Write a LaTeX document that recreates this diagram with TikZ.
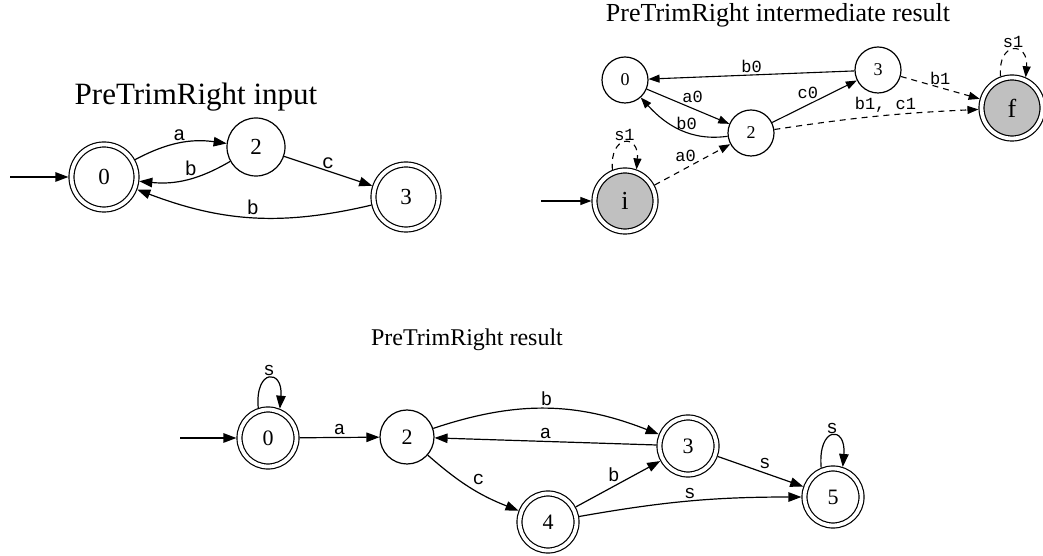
\documentclass[tikz,border=0pt]{standalone}
\usepackage{fontspec}
\setmainfont{Liberation Serif}
\newfontfamily\edgefont{Liberation Mono}
\usetikzlibrary{arrows.meta}
\definecolor{nodegray}{HTML}{C0C0C0}

\tikzset{
  st/.style={circle, draw, line width=1.2pt, inner sep=0pt},
  acc/.style={st, double, double distance=3.8pt, outer sep=3.1pt},
  fin/.style={acc, fill=nodegray},
  ea/.style={line width=1.2pt, -{Triangle[length=13pt,width=9.5pt]}},
  eb/.style={line width=1.1pt, -{Triangle[length=11pt,width=8pt]}},
  dsh/.style={dash pattern=on 6pt off 5pt},
  la/.style={font=\edgefont\fontsize{20}{20}\selectfont, inner sep=2pt},
  lb/.style={font=\edgefont\fontsize{17}{17}\selectfont, inner sep=2pt},
  lc/.style={font=\edgefont\fontsize{19}{19}\selectfont, inner sep=2pt},
  ttl/.style={inner sep=0pt},
}

\begin{document}
\begin{tikzpicture}[x=1pt, y=1pt]
\useasboundingbox (0,0) rectangle (1043,556);

% ---------- input automaton ----------
\node[ttl, font=\fontsize{31}{31}\selectfont] (t1) at (196,459) {PreTrimRight input};
\begin{scope}[every node/.append style={font=\fontsize{23}{23}\selectfont}]
  \node[acc, minimum size=65pt] (g1n0) at (104,379) {0};
  \node[st,  minimum size=58pt] (g1n2) at (256,409) {2};
  \node[acc, minimum size=65pt] (g1n3) at (406,359) {3};
\end{scope}
\coordinate (g1s) at (10,379);
\draw[ea] (g1s) -- (g1n0);
\draw[ea] (g1n0) to[bend left=18] node[la, above] {a} (g1n2);
\draw[ea] (g1n2) to[bend left=18] node[la, above, pos=0.45] {b} (g1n0);
\draw[ea] (g1n2) -- node[la, above, pos=0.5] {c} (g1n3);
\draw[ea] (g1n3) to[bend left=17] node[la, above] {b} (g1n0);

% ---------- intermediate automaton ----------
\node[ttl, font=\fontsize{26}{26}\selectfont] (t2) at (778,541) {PreTrimRight intermediate result};
\begin{scope}[every node/.append style={font=\fontsize{18}{18}\selectfont}]
  \node[st, minimum size=46pt] (g2n0) at (625,476) {0};
  \node[st, minimum size=46pt] (g2n2) at (751,423) {2};
  \node[st, minimum size=46pt] (g2n3) at (878,486) {3};
\end{scope}
\begin{scope}[every node/.append style={font=\fontsize{26}{26}\selectfont}]
  \node[fin, minimum size=61pt] (g2i) at (625,355) {i};
  \node[fin, minimum size=61pt] (g2f) at (1012,448) {f};
\end{scope}
\coordinate (g2s) at (541,355);
\draw[eb] (g2s) -- (g2i);
\draw[eb] (g2n3) -- node[lb, above] {b0} (g2n0);
\draw[eb] (g2n0) -- node[lb, above right, pos=0.45, xshift=-4pt] {a0} (g2n2);
\draw[eb] (g2n2) to[out=188, in=-48] node[lb, above, pos=0.42] {b0} (g2n0);
\draw[eb] (g2n2) -- node[lb, above left, pos=0.5, xshift=6pt] {c0} (g2n3);
\draw[eb, dsh] (g2n3) -- node[lb, above, pos=0.5] {b1} (g2f);
\draw[eb, dsh] (g2n2) to[bend left=3] node[lb, above, pos=0.55] {b1, c1} (g2f);
\draw[eb, dsh] (g2i) -- node[lb, above left, pos=0.5, xshift=6pt] {a0} (g2n2);
\draw[eb, dsh] (g2i.112) .. controls +(95:36) and +(85:36) .. node[lb, above] {s1} (g2i.70);
\draw[eb, dsh] (g2f.110) .. controls +(95:36) and +(85:36) .. node[lb, above] {s1} (g2f.66);

% ---------- result automaton ----------
\node[ttl, font=\fontsize{24}{24}\selectfont] (t3) at (467,216) {PreTrimRight result};
\begin{scope}[every node/.append style={font=\fontsize{22}{22}\selectfont}]
  \node[acc, minimum size=57pt] (g3n0) at (268,118) {0};
  \node[st,  minimum size=54pt] (g3n2) at (407,119) {2};
  \node[acc, minimum size=57pt] (g3n3) at (688,110) {3};
  \node[acc, minimum size=57pt] (g3n4) at (548,34)  {4};
  \node[acc, minimum size=57pt] (g3n5) at (833,59)  {5};
\end{scope}
\coordinate (g3s) at (180,118);
\draw[ea] (g3s) -- (g3n0);
\draw[ea] (g3n0.108) .. controls +(95:40) and +(85:40) .. node[lc, above] {s} (g3n0.68);
\draw[ea] (g3n0) -- node[lc, above] {a} (g3n2);
\draw[ea] (g3n2) to[bend left=20] node[lc, above] {b} (g3n3);
\draw[ea] (g3n3) -- node[lc, above] {a} (g3n2);
\draw[ea] (g3n2) to[bend right=10] node[lc, above right] {c} (g3n4);
\draw[ea] (g3n4) -- node[lc, above left, xshift=4pt] {b} (g3n3);
\draw[ea] (g3n3) -- node[lc, above right, xshift=-4pt] {s} (g3n5);
\draw[ea] (g3n4) to[bend left=5] node[lc, above] {s} (g3n5);
\draw[ea] (g3n5.112) .. controls +(95:42) and +(85:42) .. node[lc, above] {s} (g3n5.72);
\end{tikzpicture}
\end{document}
